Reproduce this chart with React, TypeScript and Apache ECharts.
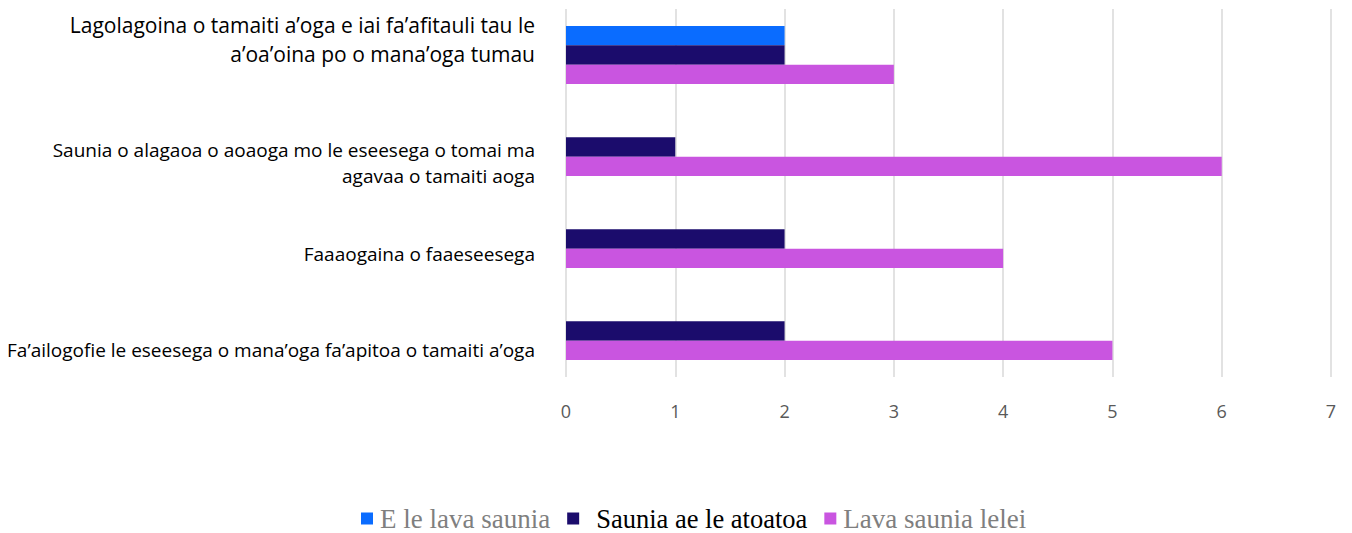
import React, { useEffect, useRef } from "react";
import * as echarts from "echarts";

const categories = [
  "Lagolagoina o tamaiti a’oga e iai fa’afitauli tau le\na’oa’oina po o mana’oga tumau",
  "Saunia o alagaoa o aoaoga mo le eseesega o tomai ma\nagavaa o tamaiti aoga",
  "Faaaogaina o faaeseesega",
  "Fa’ailogofie le eseesega o mana’oga fa’apitoa o tamaiti a’oga",
];
const seriesNames = ["E le lava saunia", "Saunia ae le atoatoa", "Lava saunia lelei"];
const notPrepared = [2, 0, 0, 0];
const partlyPrepared = [2, 1, 2, 2];
const wellPrepared = [3, 6, 4, 5];
const xTicks = [0, 1, 2, 3, 4, 5, 6, 7];
const colors = ["#0A6CFF", "#1B0C6C", "#C955E0"];

export default function App() {
  const ref = useRef<HTMLDivElement>(null);
  useEffect(() => {
    if (!ref.current) return;
    const chart = echarts.init(ref.current, null, { renderer: "svg" });
    const values = [notPrepared, partlyPrepared, wellPrepared];
    const fmt = (v: string, i: number) => {
      if (i === 0) {
        return v.split("\n").map((l) => `{big|${l}}`).join("\n") + "\n{sp0| }";
      }
      const lines = v.split("\n").map((l) => `{n|${l}}`).join("\n");
      return `{sp${i}| }\n` + lines;
    };
    chart.setOption({
      animation: false,
      grid: { left: 558, right: 21, top: 1, bottom: 156, containLabel: false, outerBoundsMode: "none" },
      xAxis: {
        type: "value",
        min: xTicks[0],
        max: xTicks[xTicks.length - 1],
        interval: 1,
        axisLine: { show: false },
        axisTick: { show: false },
        axisLabel: { color: "#595959", fontSize: 18, fontFamily: "Open Sans", margin: 25 },
        splitLine: { lineStyle: { color: "#D9D9D9", width: 1.5 } },
      },
      yAxis: {
        type: "category",
        inverse: true,
        data: categories,
        axisLine: { show: false },
        axisTick: { show: false },
        axisLabel: {
          margin: 31,
          align: "right",
          formatter: fmt,
          rich: {
            big: { fontSize: 21, lineHeight: 29, color: "#000", fontFamily: "Open Sans", align: "right" },
            n: { fontSize: 19, lineHeight: 26, color: "#000", fontFamily: "Open Sans", align: "right" },
            sp0: { fontSize: 1, lineHeight: 32, align: "right" },
            sp1: { fontSize: 1, lineHeight: 31, align: "right" },
            sp2: { fontSize: 1, lineHeight: 30, align: "right" },
            sp3: { fontSize: 1, lineHeight: 38, align: "right" },
          },
        },
      },
      legend: {
        bottom: 1,
        left: 353,
        padding: 0,
        itemWidth: 12,
        itemHeight: 12,
        itemGap: 17,
        icon: "rect",
        data: seriesNames,
        formatter: (n: string) => (n === seriesNames[1] ? `{b|${n}}` : `{g|${n}}`),
        textStyle: {
          rich: {
            g: { fontFamily: "Liberation Serif", fontSize: 27, lineHeight: 28, color: "#7F7F7F", padding: [0, 0, 0, 2] },
            b: { fontFamily: "Liberation Serif", fontSize: 26.5, lineHeight: 28, color: "#000", padding: [0, 0, 0, 12] },
          },
        },
      },
      series: seriesNames.map((name, k) => ({
        name,
        type: "bar",
        data: values[k],
        itemStyle: { color: colors[k] },
        barGap: "0%",
        barCategoryGap: "37%",
      })),
    });
    return () => chart.dispose();
  }, []);
  return <div ref={ref} style={{ width: 1344, height: 525 }} />;
}
